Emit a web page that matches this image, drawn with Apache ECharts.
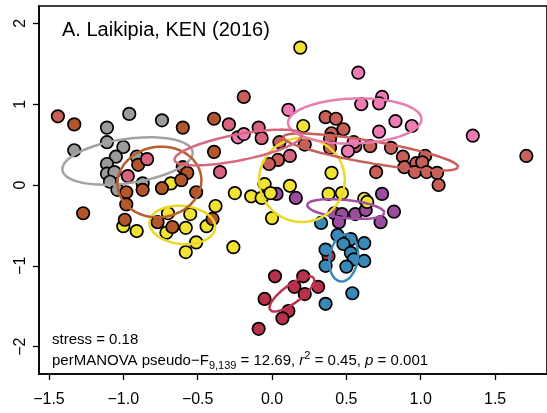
<!DOCTYPE html>
<html>
<head>
<meta charset="utf-8">
<script src="https://cdn.jsdelivr.net/npm/echarts@6/dist/echarts.min.js"></script>
<style>
  html, body { margin: 0; padding: 0; background: #fff; }
  #chart { width: 547px; height: 413px; }
</style>
</head>
<body>
<div id="chart"></div>
<script>
// NMDS ordination scores per group: [NMDS1, NMDS2]
const greyPts = [[-0.96,0.88],[-0.74,0.80],[-1.11,0.71],[-1.11,0.53],[-1.33,0.43],[-1.00,0.47],[-1.05,0.35],[-0.91,0.35],[-1.11,0.26],[-1.11,0.14],[-1.06,0.16],[-1.09,0.04],[-0.87,0.02],[-1.04,-0.06]];
const brownPts = [[-1.33,0.75],[-0.60,0.71],[-0.39,0.82],[-0.90,0.25],[-0.98,-0.09],[-0.87,-0.06],[-0.74,-0.04],[-0.60,0.22],[-0.57,0.15],[-0.61,0.06],[-0.51,-0.09],[-0.39,0.41],[-0.98,-0.24],[-1.27,-0.35],[-0.99,-0.43],[-0.77,-0.46],[-0.67,-0.52],[-0.40,-0.42]];
const yellowLowPts = [[-0.68,0.02],[-0.70,-0.35],[-0.55,-0.36],[-0.38,-0.26],[-0.44,-0.51],[-0.58,-0.53],[-0.71,-0.59],[-0.51,-0.71],[-0.58,-0.83],[-1.00,-0.51],[-0.91,-0.57],[-0.26,-0.77]];
const yellowHighPts = [[0.19,1.70],[0.21,0.73],[-0.25,-0.10],[-0.14,-0.14],[-0.05,0.01],[-0.07,-0.16],[-0.01,-0.10],[0.12,-0.01],[0.00,-0.41],[0.40,0.15],[0.38,-0.11],[0.47,-0.10],[0.62,-0.17],[0.64,-0.21]];
const pinkPts = [[-0.23,0.59],[-0.19,0.63],[0.11,0.93],[0.58,1.39],[0.74,1.09],[0.60,1.00],[0.72,1.01],[0.83,0.79],[0.94,0.73],[0.72,0.66],[0.55,0.53],[0.51,0.42],[1.35,0.61]];
const rosePts = [[-0.29,0.75],[-0.09,0.71],[-0.07,0.58],[-0.35,0.16],[0.12,0.36],[-0.84,0.32],[-0.97,0.11]];
const salmonPts = [[-1.44,0.85],[-0.19,1.09],[0.05,0.53],[0.04,0.31],[-0.02,0.26],[0.36,0.84],[0.43,0.82],[0.48,0.69],[0.40,0.64],[0.39,0.57],[0.22,0.50],[0.66,0.48],[0.56,0.48],[0.39,0.46],[0.80,0.46],[0.70,0.16],[0.88,0.35],[1.03,0.36],[0.97,0.27],[1.01,0.28],[0.89,0.22],[0.96,0.16],[1.04,0.16],[1.11,0.15],[1.12,0.00],[1.71,0.36]];
const purplePts = [[0.03,-0.11],[0.16,-0.16],[0.74,-0.11],[0.42,-0.35],[0.47,-0.36],[0.45,-0.46],[0.56,-0.36],[0.63,-0.31],[0.73,-0.46],[0.82,-0.33]];
const bluePts = [[0.33,-0.47],[0.44,-0.62],[0.53,-0.67],[0.48,-0.73],[0.62,-0.72],[0.36,-0.80],[0.53,-0.84],[0.55,-0.92],[0.62,-0.94],[0.36,-1.00],[0.50,-1.01],[0.54,-1.34],[0.36,-1.47]];
const crimsonPts = [[0.02,-1.13],[0.21,-1.13],[0.15,-1.26],[0.22,-1.35],[0.31,-1.26],[-0.05,-1.41],[0.11,-1.56],[0.07,-1.65],[-0.09,-1.78],[0.38,-0.88]];

// Group dispersion ellipses: centre and the two conjugate semi-axis vectors
const ellipseCentre = {
  grey: [-0.972, 0.297], brown: [-0.757, 0.037], yellowLow: [-0.603, -0.495],
  rose: [-0.228, 0.464], pink: [0.556, 0.792], salmon: [0.663, 0.408],
  yellowHigh: [0.201, 0.062], purple: [0.496, -0.297], blue: [0.482, -0.903],
  crimson: [0.134, -1.349]
};
const ellipseAxisU = {
  grey: [0.438, 0.114], brown: [0.281, 0.062], yellowLow: [0.221, -0.037],
  rose: [0.429, 0.155], pink: [0.449, 0.025], salmon: [0.589, -0.186],
  yellowHigh: [0.288, 0.0], purple: [0.261, -0.050], blue: [0.023, 0.291],
  crimson: [0.147, 0.198]
};
const ellipseAxisV = {
  grey: [0.021, -0.270], brown: [0.027, -0.433], yellowLow: [-0.011, -0.235],
  rose: [0.017, -0.158], pink: [0.005, -0.278], salmon: [-0.013, -0.134],
  yellowHigh: [0.0, -0.52], purple: [-0.006, -0.111], blue: [0.094, -0.025],
  crimson: [0.036, -0.090]
};

const xTicks = [-1.5, -1.0, -0.5, 0.0, 0.5, 1.0, 1.5];
const yTicks = [-2, -1, 0, 1, 2];

const FONT = 'Liberation Sans, Arial, Helvetica, sans-serif';

const groups = [
  { key: 'grey',       pts: greyPts,       fill: '#9B9B9B', line: '#A3A3A3' },
  { key: 'crimson',    pts: crimsonPts,    fill: '#B8304A', line: '#B93350' },
  { key: 'blue',       pts: bluePts,       fill: '#3889B8', line: '#3A8BB7' },
  { key: 'purple',     pts: purplePts,     fill: '#9A4C9F', line: '#A050A5' },
  { key: 'yellowLow',  pts: yellowLowPts,  fill: '#F2E232', line: '#EBD925' },
  { key: 'yellowHigh', pts: yellowHighPts, fill: '#F2E232', line: '#EBD925' },
  { key: 'brown',      pts: brownPts,      fill: '#B3562C', line: '#B85F32' },
  { key: 'salmon',     pts: salmonPts,     fill: '#C8605A', line: '#C7605A' },
  { key: 'pink',       pts: pinkPts,       fill: '#EE7BB3', line: '#E97CB0' },
  { key: 'rose',       pts: rosePts,       fill: '#D96480', line: '#D9667F' }
];

function ellipsePath(key) {
  const c = ellipseCentre[key], u = ellipseAxisU[key], v = ellipseAxisV[key];
  const out = [];
  const n = 120;
  for (let i = 0; i <= n; i++) {
    const t = 2 * Math.PI * i / n;
    out.push([c[0] + u[0] * Math.cos(t) + v[0] * Math.sin(t),
              c[1] + u[1] * Math.cos(t) + v[1] * Math.sin(t)]);
  }
  return out;
}

const minus = s => s.replace('-', '\u2212');

const series = [];
groups.forEach(g => {
  series.push({
    type: 'scatter', name: g.key, data: g.pts, symbol: 'circle', symbolSize: 12.5,
    itemStyle: { color: g.fill, borderColor: '#000', borderWidth: 1.7, opacity: 1 },
    z: 2, silent: true
  });
});
groups.forEach(g => {
  series.push({
    type: 'line', name: g.key + '-ellipse', data: ellipsePath(g.key),
    symbol: 'none', smooth: false, silent: true, z: 3,
    lineStyle: { color: g.line, width: 2.5 }
  });
});

const chart = echarts.init(document.getElementById('chart'), null, { renderer: 'canvas' });
chart.setOption({
  animation: false,
  backgroundColor: '#fff',
  grid: { left: 39, top: 6, width: 510, height: 368, show: true, borderColor: '#000', borderWidth: 1.6, backgroundColor: 'transparent' },
  title: {
    text: 'A. Laikipia, KEN (2016)', left: 62, top: 20, padding: 0,
    textStyle: { fontFamily: FONT, fontSize: 20, fontWeight: 'normal', color: '#000' }
  },
  xAxis: {
    type: 'value', min: -1.567, max: 1.849,
    axisLine: { show: true, onZero: false, lineStyle: { color: '#000', width: 1.6 } },
    axisTick: { show: true, length: 6, customValues: xTicks, lineStyle: { color: '#000', width: 1.3 } },
    axisLabel: { customValues: xTicks, margin: 18, fontFamily: FONT, fontSize: 16, color: '#000',
                 formatter: v => minus(Number(v).toFixed(1)) },
    splitLine: { show: false }
  },
  yAxis: {
    type: 'value', min: -2.339, max: 2.215,
    axisLine: { show: true, onZero: false, lineStyle: { color: '#000', width: 1.6 } },
    axisTick: { show: true, length: 6, customValues: yTicks, lineStyle: { color: '#000', width: 1.3 } },
    axisLabel: { customValues: yTicks, margin: 10, rotate: 90, fontFamily: FONT, fontSize: 16, color: '#000',
                 formatter: v => minus(String(Math.round(v))) },
    splitLine: { show: false }
  },
  graphic: [
    {
      type: 'text', left: 52, top: 332, silent: true,
      style: { text: 'stress = 0.18', font: '15px ' + FONT, fill: '#000' }
    },
    {
      type: 'text', left: 52, top: 350, silent: true,
      style: {
        text: '{n|perMANOVA pseudo\u2212F}{s|9,139}{n| = 12.69, }{i|r}{p|2}{n| = 0.45, }{i|p}{n| = 0.001}',
        fill: '#000',
        rich: {
          n: { fontFamily: FONT, fontSize: 15, lineHeight: 21, fill: '#000' },
          i: { fontFamily: FONT, fontSize: 15, fontStyle: 'italic', lineHeight: 21, fill: '#000' },
          s: { fontFamily: FONT, fontSize: 11, lineHeight: 13, verticalAlign: 'bottom', fill: '#000' },
          p: { fontFamily: FONT, fontSize: 11, lineHeight: 13, verticalAlign: 'top', fill: '#000' }
        }
      }
    }
  ],
  series: series
});
</script>
</body>
</html>
